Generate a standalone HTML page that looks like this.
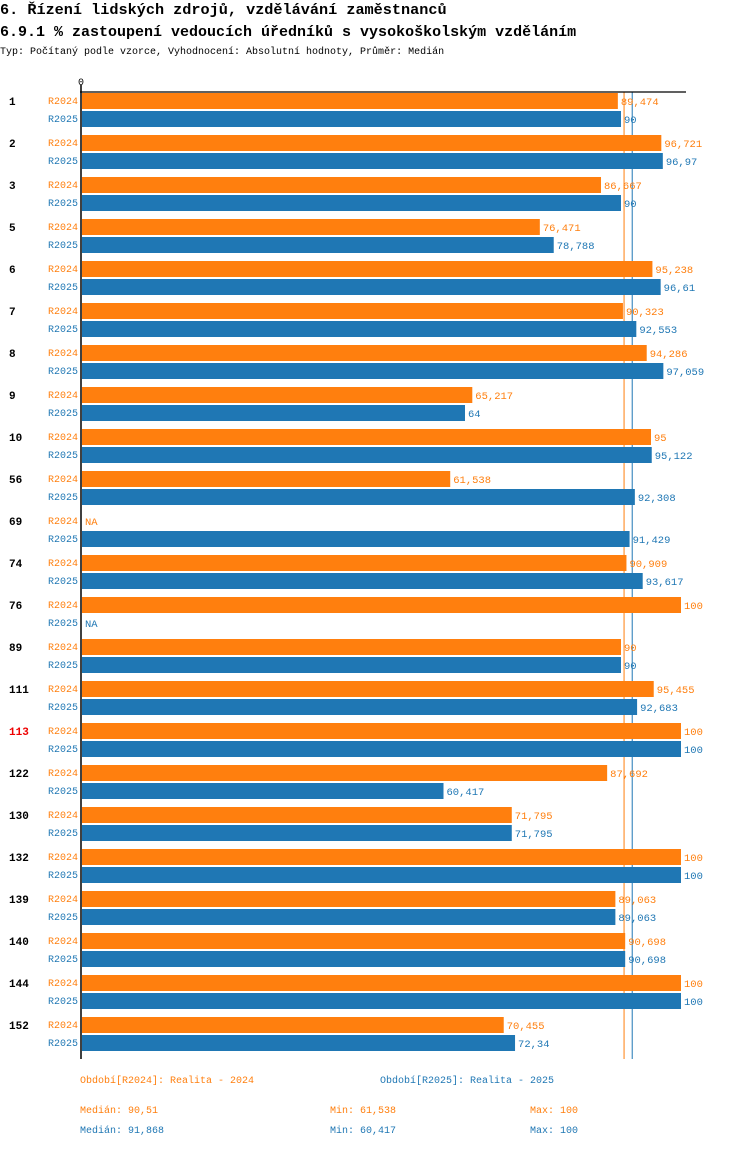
<!DOCTYPE html>
<html><head><meta charset="utf-8"><style>
body{margin:0;background:#fff;width:750px;height:1148px;overflow:hidden;font-family:"Liberation Mono",monospace}
svg text{font-family:"Liberation Mono",monospace}
</style></head><body>
<svg id="c" width="750" height="1148" xmlns="http://www.w3.org/2000/svg">
<text x="0" y="14" font-size="15.2" font-weight="bold">6. Řízení lidských zdrojů, vzdělávání zaměstnanců</text>
<text x="0" y="36" font-size="15" font-weight="bold">6.9.1 % zastoupení vedoucích úředníků s vysokoškolským vzděláním</text>
<text x="0" y="54" font-size="10">Typ: Počítaný podle vzorce, Vyhodnocení: Absolutní hodnoty, Průměr: Medián</text>
<text x="78" y="85" font-size="10">0</text>
<g id="bars"></g>
<line x1="80" y1="92" x2="686" y2="92" stroke="#000" stroke-width="1.3"/>
<line x1="81" y1="85" x2="81" y2="1059" stroke="#000" stroke-width="1.5"/>
<g font-size="10">
<text x="80" y="1083" fill="#ff7f0e">Období[R2024]: Realita - 2024</text>
<text x="380" y="1083" fill="#1f77b4">Období[R2025]: Realita - 2025</text>
<text x="80" y="1113" fill="#ff7f0e">Medián: 90,51</text>
<text x="330" y="1113" fill="#ff7f0e">Min: 61,538</text>
<text x="530" y="1113" fill="#ff7f0e">Max: 100</text>
<text x="80" y="1133" fill="#1f77b4">Medián: 91,868</text>
<text x="330" y="1133" fill="#1f77b4">Min: 60,417</text>
<text x="530" y="1133" fill="#1f77b4">Max: 100</text>
</g>
</svg>
<script>
const categories=["1","2","3","5","6","7","8","9","10","56","69","74","76","89","111","113","122","130","132","139","140","144","152"];
const values2024=[89.474,96.721,86.667,76.471,95.238,90.323,94.286,65.217,95,61.538,null,90.909,100,90,95.455,100,87.692,71.795,100,89.063,90.698,100,70.455];
const values2025=[90,96.97,90,78.788,96.61,92.553,97.059,64,95.122,92.308,91.429,93.617,null,90,92.683,100,60.417,71.795,100,89.063,90.698,100,72.34];
const medians=[90.51,91.868];
const NS="http://www.w3.org/2000/svg";
const g=document.getElementById('bars');
const x=v=>81+v*6;
const fmt=v=>v===null?"NA":String(v).replace('.',',');
function el(t,a){const e=document.createElementNS(NS,t);for(const k in a)e.setAttribute(k,a[k]);g.appendChild(e);return e;}
const cols=["#ff7f0e","#1f77b4"];
medians.forEach((m,i)=>{const l=el('line',{x1:x(m),x2:x(m),y1:92,y2:1059,stroke:cols[i],'stroke-width':1});

});
categories.forEach((c,i)=>{
 const top=93+42*i;
 const t=el('text',{x:9,y:top+12,'font-size':11,'font-weight':'bold',fill:c==="113"?"#e00":"#000"});t.textContent=c;
 
 
 [values2024[i],values2025[i]].forEach((v,s)=>{
  const y=top+s*18;
  const lab=el('text',{x:78,y:y+11,'font-size':10,fill:cols[s],'text-anchor':'end'});lab.textContent=s?"R2025":"R2024";
  
  
  let end=x(0)+1;
  if(v!==null){const r=el('rect',{x:82,y:y,width:x(v)-82,height:16,fill:cols[s]});
   
   end=x(v);}
  const vt=el('text',{x:end+3,y:y+12,'font-size':10.5,fill:cols[s]});vt.textContent=fmt(v);
  
  
 });
});
</script>
</body></html>
